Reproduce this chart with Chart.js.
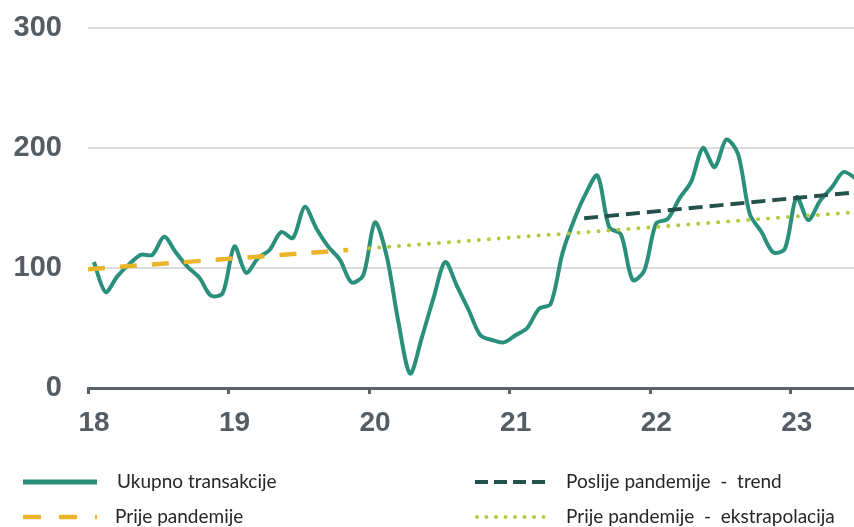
<!DOCTYPE html>
<html>
<head>
<meta charset="utf-8">
<script src="https://cdn.jsdelivr.net/npm/chart.js@4"></script>
<style>
  html, body { margin: 0; padding: 0; background: #ffffff; }
  #chart { display: block; }
</style>
</head>
<body>
<canvas id="chart" width="854" height="527"></canvas>
<script>
// Monthly values, starting January 2018 (one point per month, mid-month)
const startYear = 18;
const ukupno = [
  105, 80, 93, 103, 111, 111, 126, 113, 101, 92, 77, 79,
  118, 96, 108, 115, 130, 125, 151, 133, 118, 107, 88, 94,
  138, 110, 55, 12, 42, 75, 105, 85, 65, 44, 40, 38,
  44, 50, 66, 70, 112, 140, 162, 177, 134, 128, 90, 98,
  137, 141, 158, 172, 200, 184, 207, 195, 145, 130, 113, 116,
  159, 140, 156, 167, 180, 175
];

// Trend lines: start/end points (year, value)
const prijeX = [18.0, 19.85];
const prijeY = [99, 115];
const poslijeX = [21.53, 23.45];
const poslijeY = [141.5, 163];
const ekstraX = [20.0, 23.45];
const ekstraY = [116.5, 146.5];

const yTicks = [0, 100, 200, 300];
const xTicks = [18, 19, 20, 21, 22, 23];

const labels = [
  "Ukupno transakcije",
  "Prije pandemije",
  "Poslije pandemije - trend",
  "Prije pandemije - ekstrapolacija"
];

function toPoints(xs, ys) {
  return xs.map((x, i) => ({ x: x, y: ys[i] }));
}

var mainPoints = ukupno.map((v, i) => ({ x: startYear + (i + 0.5) / 12, y: v }));

// Legend drawn at the bottom in two columns
const legendPlugin = {
  id: "customLegend",
  afterDraw(chart) {
    var ctx = chart.ctx;
    var slots = [
      { x: 23, y: 482, tx: 117 },
      { x: 23, y: 517, tx: 115 },
      { x: 475, y: 482, tx: 566 },
      { x: 477, y: 517, tx: 566 }
    ];
    chart.data.datasets.forEach((ds, i) => {
      var s = slots[i];
      ctx.save();
      ctx.strokeStyle = ds.borderColor;
      ctx.lineWidth = ds.legendWidth || ds.borderWidth;
      ctx.lineCap = ds.borderCapStyle || "butt";
      ctx.setLineDash(ds.legendDash || ds.borderDash || []);
      ctx.beginPath();
      ctx.moveTo(s.x, s.y);
      ctx.lineTo(s.x + 74, s.y);
      ctx.stroke();
      ctx.restore();

      ctx.save();
      ctx.fillStyle = "#262626";
      ctx.font = "19px Lato";
      ctx.textBaseline = "middle";
      ctx.textAlign = "left";
      ctx.fillText(ds.label.replace(" - ", "  -  "), s.tx, s.y);
      ctx.restore();
    });
  }
};

var ctx = document.getElementById("chart").getContext("2d");
var myChart = new Chart(ctx, {
  type: "line",
  data: {
    datasets: [
      {
        label: labels[0],
        data: mainPoints,
        borderColor: "#2a8f7b",
        borderWidth: 4,
        legendWidth: 5,
        tension: 0.3,
        pointRadius: 0,
        order: 1
      },
      {
        label: labels[1],
        data: toPoints(prijeX, prijeY),
        borderColor: "#ebb52a",
        borderWidth: 4.5,
        borderDash: [17, 15],
        legendDash: [18, 18],
        pointRadius: 0,
        order: 0
      },
      {
        label: labels[2],
        data: toPoints(poslijeX, poslijeY),
        borderColor: "#24524b",
        borderWidth: 4,
        borderDash: [14, 7],
        legendDash: [13, 6],
        pointRadius: 0,
        order: 0
      },
      {
        label: labels[3],
        data: toPoints(ekstraX, ekstraY),
        borderColor: "#b2cb3c",
        borderWidth: 4,
        borderCapStyle: "round",
        borderDash: [0, 10],
        legendDash: [0, 9.5],
        pointRadius: 0,
        order: 0
      }
    ]
  },
  options: {
    responsive: false,
    animation: false,
    layout: {
      padding: { top: 28, right: 0, bottom: 79, left: 0 }
    },
    plugins: {
      legend: { display: false },
      tooltip: { enabled: false }
    },
    scales: {
      x: {
        type: "linear",
        min: 18,
        max: 23.45,
        afterFit: (scale) => { scale.height = 60; },
        afterBuildTicks: (scale) => { scale.ticks = xTicks.map((v) => ({ value: v })); },
        border: { display: true, color: "#5c6167", width: 3 },
        grid: {
          drawOnChartArea: false,
          drawTicks: true,
          tickLength: 6,
          tickWidth: 3,
          tickColor: "#5c6167"
        },
        ticks: {
          autoSkip: false,
          includeBounds: false,
          maxRotation: 0,
          labelOffset: 6,
          padding: 12,
          color: "#565c63",
          font: { family: "Liberation Sans", size: 28, weight: "bold" },
          callback: (v) => String(v)
        }
      },
      y: {
        min: 0,
        max: 300,
        afterFit: (scale) => { scale.width = 88; },
        afterBuildTicks: (scale) => { scale.ticks = yTicks.map((v) => ({ value: v })); },
        border: { display: false },
        grid: {
          color: "#dcdcdc",
          lineWidth: 2,
          drawTicks: true,
          tickLength: 26,
          tickColor: "rgba(0,0,0,0)"
        },
        ticks: {
          padding: 0,
          color: "#565c63",
          font: { family: "Liberation Sans", size: 29, weight: "bold" }
        }
      }
    }
  },
  plugins: [legendPlugin]
});
</script>
</body>
</html>
